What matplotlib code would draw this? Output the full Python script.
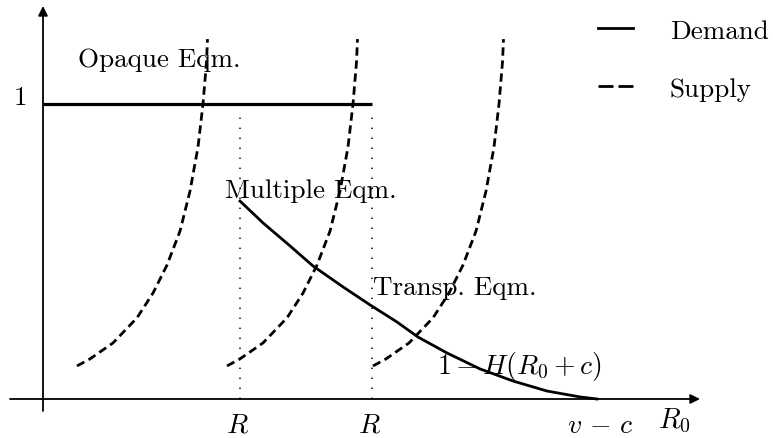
import matplotlib
matplotlib.use("Agg")
import matplotlib.pyplot as plt
from matplotlib.lines import Line2D

plt.rcParams['font.family'] = 'serif'
plt.rcParams['font.serif'] = ['cmr10', 'DejaVu Serif']
plt.rcParams['mathtext.fontset'] = 'cm'
plt.rcParams['axes.formatter.use_mathtext'] = True
plt.rcParams['lines.scale_dashes'] = False

# ---- data (x: R0 axis units, y: share, 1 = flat demand level) ----
demand_flat_x = [0, 329]
demand_flat_y = [1.0, 1.0]

demand_x = [197, 220, 247, 270, 300, 327, 354, 375, 404, 437, 470, 504, 537, 554]
demand_y = [0.671, 0.597, 0.519, 0.451, 0.380, 0.319, 0.261, 0.210, 0.156,
            0.102, 0.061, 0.027, 0.007, 0.0]

supply_y = [0.112, 0.136, 0.190, 0.275, 0.359, 0.454, 0.569, 0.705, 0.854,
            1.0, 1.142, 1.220]
supply1_x = [34, 47, 70, 94, 110, 124, 137, 147, 155, 160, 163.5, 164.5]
supply2_x = [184, 197, 220, 244, 260, 274, 287, 297, 305, 310, 313.5, 314.5]
supply3_x = [330, 343, 366, 390, 406, 420, 433, 443, 451, 456, 459.5, 460.5]

R_low = 197
R_high = 329
v_minus_c = 554
dotted_top = 0.96

fig = plt.figure(figsize=(7.73, 4.39), dpi=100)
ax = fig.add_axes([0, 0, 1, 1])
ax.set_xlim(-43, 730)
ax.set_ylim(-39 / 295, 400 / 295)
ax.axis('off')

# axes with arrows
ax.annotate('', xy=(0, 393 / 295), xytext=(0, -12 / 295),
            arrowprops=dict(arrowstyle='-|>', color='black', lw=1.3,
                            mutation_scale=14, shrinkA=0, shrinkB=0))
ax.annotate('', xy=(657, 0), xytext=(-33, 0),
            arrowprops=dict(arrowstyle='-|>', color='black', lw=1.3,
                            mutation_scale=14, shrinkA=0, shrinkB=0))

# dotted guides
for xv in (R_low, R_high):
    ax.plot([xv, xv], [0.0, dotted_top], color='black', lw=1.1,
            linestyle=(0, (1.0, 6.2)))

# supply curves
dash = (0, (6.0, 3.4))
for sx in (supply1_x, supply2_x, supply3_x):
    ax.plot(sx, supply_y, color='black', lw=2.0, linestyle=dash)

# demand
ax.plot(demand_flat_x, demand_flat_y, color='black', lw=2.3, solid_capstyle='butt')
ax.plot(demand_x, demand_y, color='black', lw=2.0)

fs = 19.5
ax.text(35, 333 / 295, 'Opaque Eqm.', fontsize=fs, family='cmr10', va='baseline')
ax.text(182, 202 / 295, 'Multiple Eqm.', fontsize=fs, family='cmr10', va='baseline')
ax.text(330, 105 / 295, 'Transp. Eqm.', fontsize=fs, family='cmr10', va='baseline')
ax.text(394, 26 / 295, r'$1-H(R_0+c)$', fontsize=fs + 0.5, va='baseline')
ax.text(-30, 1.0, r'$1$', fontsize=fs, va='baseline')
ax.text(R_low - 3, -33 / 295, r'$R$', fontsize=fs + 0.5, ha='center', va='baseline')
ax.text(R_high - 3, -33 / 295, r'$R$', fontsize=fs + 0.5, ha='center', va='baseline')
ax.text(v_minus_c + 3, -33 / 295, r'$v\,-\,c$', fontsize=fs + 0.5, ha='center', va='baseline')
ax.text(615, -28 / 295, r'$R_0$', fontsize=fs + 1, va='baseline')

handles = [Line2D([], [], color='black', lw=2.0),
           Line2D([], [], color='black', lw=2.0, linestyle=(0, (10.8, 3.6)))]
leg = ax.legend(handles, ['Demand', 'Supply'], frameon=False,
                prop={'family': 'cmr10', 'size': fs},
                loc='upper left', bbox_to_anchor=(598 / 773, 1.0 - 20 / 439),
                bbox_transform=fig.transFigure, handlelength=1.3,
                handletextpad=1.35, labelspacing=1.25, borderaxespad=0,
                borderpad=0)

fig.savefig('out.png', dpi=100)
